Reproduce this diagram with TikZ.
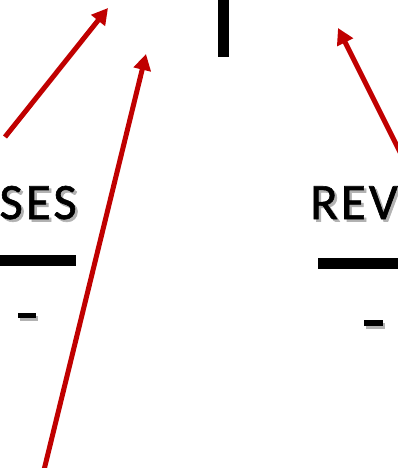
\documentclass[tikz,border=0pt]{standalone}
\usepackage{fontspec}
\setmainfont{Carlito}
\newfontfamily\labelfont[FakeBold=1.2,LetterSpace=6]{Carlito}
\usetikzlibrary{arrows.meta}
\definecolor{arrred}{HTML}{C00000}
\newcommand{\shadowed}[1]{\rlap{\hspace{2.5pt}\raisebox{-2.5pt}{\textcolor{black!30}{#1}}}#1}
\tikzset{
  redarrow/.style={draw=arrred, line width=5pt, -{Triangle[width=17pt,length=16pt]}},
  bigtext/.style={font=\labelfont\fontsize{51}{51}\selectfont, inner sep=0pt, text=black},
  blackbar/.style={fill=black},
}
\begin{document}
\begin{tikzpicture}[x=1pt,y=-1pt]
\useasboundingbox (0,0) rectangle (398,468);
\clip (0,0) rectangle (398,468);
% vertical bar
\fill[blackbar] (218,-2) rectangle (229,57);
% horizontal lines
\fill[blackbar] (-2,255) rectangle (76,266);
\fill[blackbar] (318,258) rectangle (400,269);
% labels
\node[bigtext, anchor=base east] (ses) at (77,219) {\shadowed{SES}};
\node[bigtext, anchor=base west] (rev) at (310,219) {\shadowed{REV}};
% dashes
\fill[black!30] (20,316) rectangle (38,321);
\fill[black] (18,313) rectangle (36,318);
\fill[black!30] (366,323) rectangle (385,329);
\fill[black] (364,320) rectangle (383,326);
% arrows
\coordinate (a1s) at (5,137);
\coordinate (a1e) at (108,8);
\coordinate (a2s) at (44,470);
\coordinate (a2e) at (146,54);
\coordinate (a3s) at (402,156);
\coordinate (a3e) at (338,28);
\draw[redarrow] (a1s) -- (a1e);
\draw[redarrow] (a2s) -- (a2e);
\draw[redarrow] (a3s) -- (a3e);
\end{tikzpicture}
\end{document}
